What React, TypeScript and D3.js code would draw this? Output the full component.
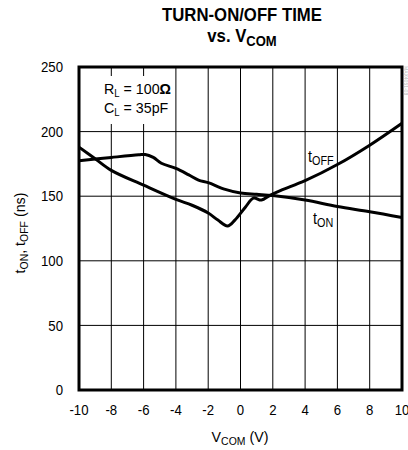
import * as React from 'react';
import * as d3 from 'd3';

// curve values
const tOffV = [-10, -9, -8, -6, -4, -3, -2, -1.4, -0.8, -0.35, 0.3, 0.8, 1.3, 1.8, 2.5, 4, 6, 8, 10];
const tOffT = [188, 179, 170, 158.5, 147.5, 143, 137, 131.5, 127, 131.5, 141.5, 148.5, 147, 150.5, 154.5, 162, 174.5, 189.5, 206.5];

const tOnV = [-10, -8, -6.3, -5.9, -5.4, -4.9, -4, -3.2, -2.6, -2, -1, 0, 1, 2, 4, 6, 8, 10];
const tOnT = [177.5, 180, 182, 182.3, 180, 175.5, 171.5, 166.5, 162.5, 160.5, 155.5, 152.5, 151.5, 150.5, 147, 142, 138, 133.5];

const xTicks = [-10, -8, -6, -4, -2, 0, 2, 4, 6, 8, 10];
const yTicks = [0, 50, 100, 150, 200, 250];

const FONT = '"Liberation Sans", Arial, sans-serif';

export default function App() {
  const ref = React.useRef<SVGSVGElement>(null);

  React.useEffect(() => {
    const m = {left: 79, right: 402, top: 67, bottom: 390};
    const svg = d3.select(ref.current);
    svg.selectAll('*').remove();

    const x = d3.scaleLinear().domain([-10, 10]).range([m.left, m.right]);
    const y = d3.scaleLinear().domain([0, 250]).range([m.bottom, m.top]);

    const g = svg.append('g');

    // text squeezed sideways to look like the narrow face of the original
    const narrow = (px: number, py: number, k: number) =>
      g.append('g')
        .attr('transform', `translate(${px},${py}) scale(${k},1)`)
        .attr('font-family', FONT)
        .append('text');

    // grid
    g.selectAll('.vg')
      .data(xTicks)
      .enter()
      .append('line')
      .attr('x1', d => x(d))
      .attr('x2', d => x(d))
      .attr('y1', m.top)
      .attr('y2', m.bottom)
      .attr('stroke', '#000')
      .attr('stroke-width', 1);
    g.selectAll('.hg')
      .data(yTicks)
      .enter()
      .append('line')
      .attr('x1', m.left)
      .attr('x2', m.right)
      .attr('y1', d => y(d))
      .attr('y2', d => y(d))
      .attr('stroke', '#000')
      .attr('stroke-width', 1);

    // annotation backdrop
    g.append('rect')
      .attr('x', 88)
      .attr('y', 76)
      .attr('width', 84)
      .attr('height', 48)
      .attr('fill', '#fff');

    const a1 = narrow(104, 94, 0.95).attr('font-size', 15);
    a1.append('tspan').text('R');
    a1.append('tspan').attr('font-size', 10).attr('dy', 3).text('L');
    a1.append('tspan').attr('dy', -3).text(' = 100');
    a1.append('tspan').attr('font-weight', 'bold').text('Ω');
    const a2 = narrow(104, 113, 0.95).attr('font-size', 15);
    a2.append('tspan').text('C');
    a2.append('tspan').attr('font-size', 10).attr('dy', 3).text('L');
    a2.append('tspan').attr('dy', -3).text(' = 35pF');

    // curves
    const line = d3
      .line<[number, number]>()
      .x(d => x(d[0]))
      .y(d => y(d[1]))
      .curve(d3.curveCatmullRom.alpha(0.5));
    const off = tOffV.map((v, i) => [v, tOffT[i]] as [number, number]);
    const on = tOnV.map((v, i) => [v, tOnT[i]] as [number, number]);
    [off, on].forEach(s => {
      g.append('path')
        .datum(s)
        .attr('fill', 'none')
        .attr('stroke', '#000')
        .attr('stroke-width', 3)
        .attr('stroke-linejoin', 'round')
        .attr('d', line);
    });

    // frame
    g.append('rect')
      .attr('x', m.left)
      .attr('y', m.top)
      .attr('width', m.right - m.left)
      .attr('height', m.bottom - m.top)
      .attr('fill', 'none')
      .attr('stroke', '#000')
      .attr('stroke-width', 3);

    // curve labels
    const l1 = narrow(308, 162, 0.9).attr('font-size', 16);
    l1.append('tspan').text('t');
    l1.append('tspan').attr('font-size', 12).attr('dy', 3).text('OFF');
    const l2 = narrow(313, 224, 0.9).attr('font-size', 16);
    l2.append('tspan').text('t');
    l2.append('tspan').attr('font-size', 12).attr('dy', 3).text('ON');

    // tick labels
    yTicks.forEach(d => {
      narrow(63, y(d), 0.88)
        .attr('font-size', 15)
        .attr('dy', '0.35em')
        .attr('text-anchor', 'end')
        .text(d);
    });
    xTicks.forEach(d => {
      narrow(x(d), 415, 0.88)
        .attr('font-size', 15)
        .attr('text-anchor', 'middle')
        .text(d);
    });

    // axis titles
    const xt = narrow(240, 442, 0.95).attr('font-size', 15).attr('text-anchor', 'middle');
    xt.append('tspan').text('V');
    xt.append('tspan').attr('font-size', 11).attr('dy', 3).text('COM');
    xt.append('tspan').attr('dy', -3).text(' (V)');

    const yt = g.append('text')
      .attr('font-family', FONT)
      .attr('font-size', 15)
      .attr('transform', 'translate(25,233) rotate(-90) scale(0.95,1)')
      .attr('text-anchor', 'middle');
    yt.append('tspan').text('t');
    yt.append('tspan').attr('font-size', 11).attr('dy', 3).text('ON');
    yt.append('tspan').attr('dy', -3).text(', t');
    yt.append('tspan').attr('font-size', 11).attr('dy', 3).text('OFF');
    yt.append('tspan').attr('dy', -3).text(' (ns)');

    // title
    narrow(242, 21, 0.93)
      .attr('font-weight', 'bold')
      .attr('font-size', 18)
      .attr('text-anchor', 'middle')
      .text('TURN-ON/OFF TIME');
    const t2 = narrow(242, 42, 0.93)
      .attr('font-weight', 'bold')
      .attr('font-size', 18)
      .attr('text-anchor', 'middle');
    t2.append('tspan').text('vs. V');
    t2.append('tspan').attr('font-size', 14).attr('dy', 4).text('COM');

    // faint part number at right edge
    g.append('text')
      .attr('font-family', FONT)
      .attr('font-size', 5)
      .attr('fill', '#bbb')
      .attr('transform', 'translate(404,66) rotate(90)')
      .text('MAX4051-08');
  }, []);

  return (
    <svg
      ref={ref}
      width={408}
      height={450}
      style={{position: 'absolute', left: 0, top: 0, background: '#fff'}}
    />
  );
}
